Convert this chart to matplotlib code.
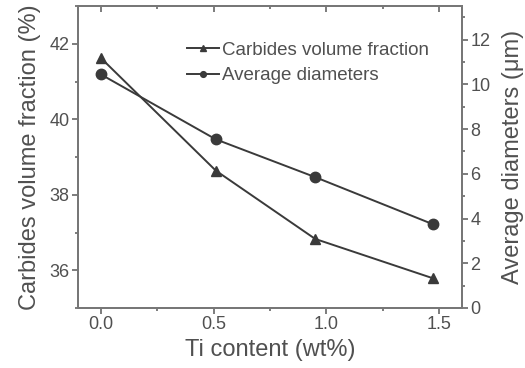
import matplotlib
matplotlib.use("Agg")
import matplotlib.pyplot as plt
from matplotlib.ticker import MultipleLocator

plt.rcParams['font.family'] = ['Liberation Sans', 'DejaVu Sans']

# data
ti_content = [0.0, 0.51, 0.95, 1.47]
volume_fraction = [41.63, 38.64, 36.83, 35.79]
avg_diameter = [10.45, 7.54, 5.85, 3.75]

ink = '#3a3a3a'
text_col = '#505050'

fig = plt.figure(figsize=(5.25, 3.68), dpi=100)
ax = fig.add_axes([78 / 525, 1 - 308 / 368, 384 / 525, 302 / 368])
ax2 = ax.twinx()

l1, = ax.plot(ti_content, volume_fraction, color=ink, marker='^', markersize=7.5,
              linewidth=1.4, label='Carbides volume fraction')
l2, = ax2.plot(ti_content, avg_diameter, color=ink, marker='o', markersize=7.5,
               linewidth=1.4, label='Average diameters')

ax.set_xlim(-0.1, 1.6)
ax.set_ylim(35, 43)
ax2.set_ylim(0, 13.5)

ax.xaxis.set_major_locator(MultipleLocator(0.5))
ax.xaxis.set_minor_locator(MultipleLocator(0.25))
ax.yaxis.set_major_locator(MultipleLocator(2))
ax.yaxis.set_minor_locator(MultipleLocator(1))
ax2.yaxis.set_major_locator(MultipleLocator(2))
ax2.yaxis.set_minor_locator(MultipleLocator(1))

for a in (ax, ax2):
    for s in a.spines.values():
        s.set_color('#777777')
        s.set_linewidth(1.4)

# outward ticks on bottom/left/right, inward on top
ax.tick_params(axis='x', which='both', direction='out', colors='#666666',
               labelcolor=text_col, labelsize=13, pad=2)
ax.tick_params(axis='y', which='both', direction='out', colors='#666666',
               labelcolor=text_col, labelsize=13, pad=2)
ax2.tick_params(axis='y', which='both', direction='out', colors='#666666',
                labelcolor=text_col, labelsize=13, pad=2)
for a in (ax, ax2):
    a.tick_params(which='major', length=4, width=1.2)
    a.tick_params(which='minor', length=2.5, width=1.2)

top = ax.secondary_xaxis('top')
top.xaxis.set_major_locator(MultipleLocator(0.5))
top.xaxis.set_minor_locator(MultipleLocator(0.25))
top.tick_params(which='both', direction='in', colors='#666666', labeltop=False, width=1.2)
top.tick_params(which='major', length=4)
top.tick_params(which='minor', length=2.5)
top.spines['top'].set_visible(False)

ax.set_xlabel('Ti content (wt%)', fontsize=17, color=text_col, labelpad=4)
ax.set_ylabel('Carbides volume fraction (%)', fontsize=17, color=text_col, labelpad=6)
ax2.set_ylabel('Average diameters (μm)', fontsize=17, color=text_col, labelpad=8)

leg = ax.legend(handles=[l1, l2], loc='upper left', bbox_to_anchor=(0.283, 0.882),
                borderaxespad=0, borderpad=0, frameon=False, fontsize=13.5,
                handlelength=1.75, handletextpad=0.15, labelspacing=0.45,
                markerscale=0.55)
for t in leg.get_texts():
    t.set_color(text_col)

fig.savefig('out.png', dpi=100)
